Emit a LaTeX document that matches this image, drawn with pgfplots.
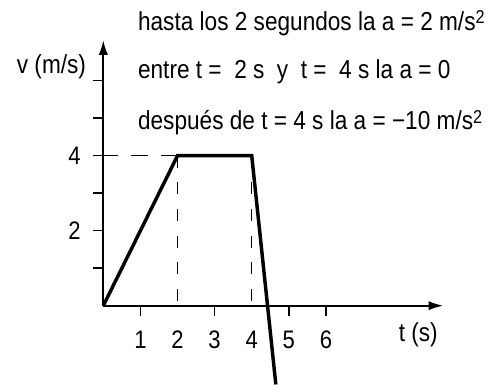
\documentclass[border=0pt]{standalone}
\usepackage{fontspec}
\setmainfont{Liberation Sans}[FakeStretch=0.87]
\usepackage{pgfplots}
\pgfplotsset{compat=1.18}
\usetikzlibrary{arrows.meta}

\newcommand{\sq}{\raisebox{0.45ex}{\fontsize{14}{14}\selectfont 2}}

\begin{document}
\begin{tikzpicture}
\begin{axis}[
    anchor=origin, at={(0pt,0pt)},
    x=27.83pt, y=28.13pt,
    xmin=0, xmax=9.16, ymin=0, ymax=7.08,
    axis lines=left,
    axis line style={line width=1.4pt, -{Latex[length=11pt,width=7pt]}},
    clip=false,
    xtick={1,3,5,6},
    extra x ticks={2,4},
    extra x tick style={tick style={draw=none}},
    ytick={1,2,3,4,5,6},
    yticklabels={,2,,4,,},
    tick align=outside,
    major tick length=7.5pt,
    tick style={line width=1.1pt, black},
    ticklabel style={font=\fontsize{19}{22}\selectfont},
    /pgf/number format/assume math mode=true,
    xticklabel style={yshift=-8pt},
    yticklabel style={xshift=-6pt},
]

% speed
\addplot[line width=2.6pt, black] coordinates {(0,0) (2,4) (4,4) (4.65,-2.1)};

% guides
\addplot[line width=1pt, black, dash pattern=on 12.5pt off 10pt] coordinates {(2,4) (0,4)};
\addplot[line width=1pt, black, dash pattern=on 9pt off 11pt] coordinates {(2,4) (2,0)};
\addplot[line width=1pt, black, dash pattern=on 9pt off 11pt] coordinates {(4,4) (4,0)};

\node[anchor=base west, inner sep=0pt, font=\fontsize{19.5}{22}\selectfont] at (axis cs:0.93,7.35)
    {hasta los 2 segundos la a = 2 m/s\sq};
\node[anchor=base west, inner sep=0pt, font=\fontsize{19.5}{22}\selectfont] at (axis cs:0.93,6.05)
    {entre t =~~2 s~~y~~t =~~4 s la a = 0};
\node[anchor=base west, inner sep=0pt, font=\fontsize{19.5}{22}\selectfont] at (axis cs:0.93,4.69)
    {después de t = 4 s la a = −10 m/s\sq};
\node[anchor=base east, inner sep=0pt, font=\fontsize{19.5}{22}\selectfont] at (axis cs:-0.46,6.2)
    {v (m/s)};
\node[anchor=base east, inner sep=0pt, font=\fontsize{19.5}{22}\selectfont] at (axis cs:9.02,-0.96)
    {t (s)};
\end{axis}
\pgfresetboundingbox
\path (-77.5pt,-59.5pt) rectangle (287.8pt,229.3pt);
\end{tikzpicture}
\end{document}
